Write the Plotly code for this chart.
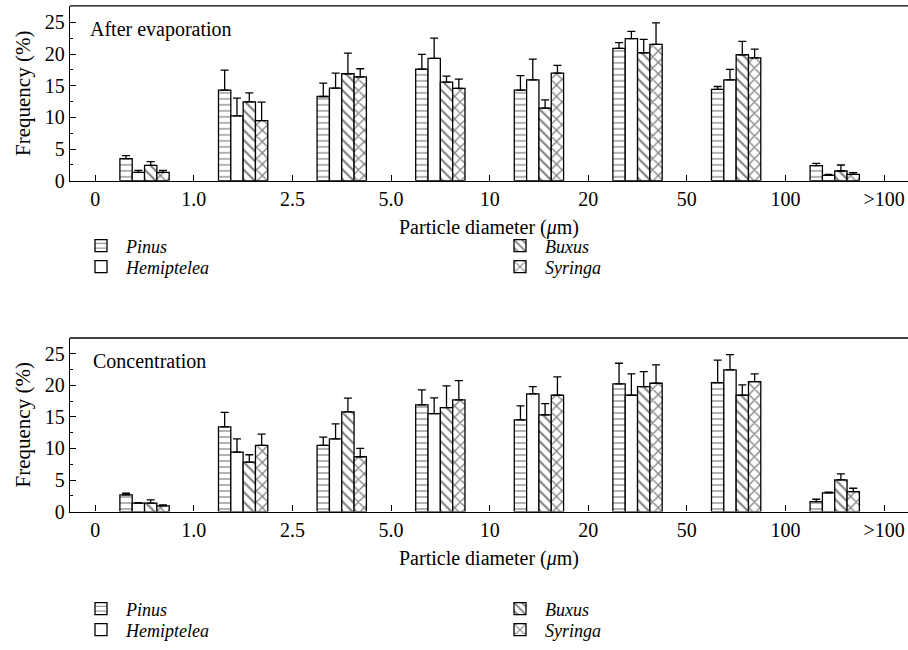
import plotly.graph_objects as go

# ---------------- data ----------------
tick_labels = ["0", "1.0", "2.5", "5.0", "10", "20", "50", "100", ">100"]
group_pos = [0.5, 1.5, 2.5, 3.5, 4.5, 5.5, 6.5, 7.5]
species = ["Pinus", "Hemiptelea", "Buxus", "Syringa"]

# After evaporation: mean values and upper error-bar tips
evap_pinus = [3.48, 14.3, 13.29, 17.6, 14.3, 20.89, 14.4, 2.37]
evap_pinus_top = [3.96, 17.46, 15.4, 19.94, 16.6, 21.78, 14.87, 2.74]
evap_hemi = [1.32, 10.23, 14.6, 19.3, 15.93, 22.42, 15.93, 0.84]
evap_hemi_top = [1.63, 13.03, 16.98, 22.5, 19.2, 23.58, 17.56, 1.0]
evap_buxus = [2.43, 12.45, 16.88, 15.56, 11.45, 20.2, 19.88, 1.53]
evap_buxus_top = [3.0, 13.87, 20.15, 16.5, 12.76, 22.3, 22.0, 2.48]
evap_syringa = [1.32, 9.49, 16.4, 14.56, 16.98, 21.52, 19.4, 1.0]
evap_syringa_top = [1.63, 12.39, 17.67, 16.03, 18.2, 24.9, 20.78, 1.27]

# Concentration
conc_pinus = [2.64, 13.42, 10.47, 16.9, 14.53, 20.22, 20.44, 1.58]
conc_pinus_top = [2.9, 15.7, 11.79, 19.28, 16.75, 23.5, 24.0, 1.95]
conc_hemi = [1.32, 9.42, 11.52, 15.53, 18.65, 18.43, 22.44, 2.95]
conc_hemi_top = [1.42, 11.52, 13.9, 18.0, 19.8, 21.8, 24.87, 3.06]
conc_buxus = [1.32, 7.83, 15.8, 16.48, 15.32, 19.8, 18.43, 5.01]
conc_buxus_top = [1.85, 9.0, 17.96, 19.9, 17.1, 22.18, 20.07, 5.96]
conc_syringa = [0.9, 10.47, 8.68, 17.7, 18.43, 20.33, 20.6, 3.16]
conc_syringa_top = [1.05, 12.26, 10.0, 20.76, 21.33, 23.23, 21.8, 3.69]

FONT = "Liberation Serif, 'DejaVu Serif', Times New Roman, serif"
FS = 20
LFS = 18

patterns = {
    "Pinus": dict(shape="-", size=6, solidity=0.2, fgcolor="black", bgcolor="white", fillmode="overlay"),
    "Hemiptelea": dict(shape="", fgcolor="black", bgcolor="white"),
    "Buxus": dict(shape="\\", size=7, solidity=0.3, fgcolor="black", bgcolor="white", fillmode="overlay"),
    "Syringa": dict(shape="x", size=8, solidity=0.3, fgcolor="black", bgcolor="white", fillmode="overlay"),
}

fig = go.Figure()

panels = [
    ("x", "y", [(evap_pinus, evap_pinus_top), (evap_hemi, evap_hemi_top),
                (evap_buxus, evap_buxus_top), (evap_syringa, evap_syringa_top)],
     ["legend", "legend2", "legend3", "legend4"]),
    ("x2", "y2", [(conc_pinus, conc_pinus_top), (conc_hemi, conc_hemi_top),
                  (conc_buxus, conc_buxus_top), (conc_syringa, conc_syringa_top)],
     ["legend5", "legend6", "legend7", "legend8"]),
]

for xa, ya, series, legs in panels:
    for name, (vals, tops), lg in zip(species, series, legs):
        err = [t - v for t, v in zip(tops, vals)]
        fig.add_trace(go.Bar(
            x=group_pos, y=vals, name="<i>" + name + "</i>", xaxis=xa, yaxis=ya,
            legend=lg, offsetgroup=name, showlegend=True,
            marker=dict(color="white", line=dict(color="black", width=1.3),
                        pattern=patterns[name]),
            error_y=dict(type="data", symmetric=False, array=err,
                         arrayminus=[0] * len(err), color="black",
                         thickness=1.3, width=4),
        ))

axis_common = dict(
    range=[-0.256, 8.243], tickmode="array", tickvals=list(range(9)),
    ticktext=tick_labels, ticks="inside", ticklen=6, tickwidth=1.2,
    tickcolor="black", showline=True, linecolor="black", linewidth=1.3,
    mirror=False, showgrid=False, zeroline=False,
    tickfont=dict(family=FONT, size=FS, color="black"),
    title=dict(text="Particle diameter (<i>μ</i>m)",
               font=dict(family=FONT, size=FS, color="black"), standoff=11),
)
yaxis_common = dict(
    range=[0, 27.6], dtick=5, tick0=0, ticks="inside", ticklen=6,
    tickwidth=1.2, tickcolor="black", showline=True, linecolor="black",
    linewidth=1.3, showgrid=False, zeroline=False,
    minor=dict(dtick=2.5, ticks="inside", ticklen=3, tickcolor="black", tickwidth=1.2),
    tickfont=dict(family=FONT, size=FS, color="black"),
    title=dict(text="Frequency (%)", font=dict(family=FONT, size=FS + 1, color="black"), standoff=8),
)

fig.update_layout(
    width=908, height=650,
    margin=dict(l=70, r=0, t=0, b=0, autoexpand=False),
    paper_bgcolor="white", plot_bgcolor="white",
    barmode="group", bargap=0.5, bargroupgap=0,
    showlegend=True,
    font=dict(family=FONT, size=FS, color="black"),
    xaxis=dict(domain=[0, 1], anchor="y", **axis_common),
    yaxis=dict(domain=[0.722, 0.991], anchor="x", **yaxis_common),
    xaxis2=dict(domain=[0, 1], anchor="y2", **axis_common),
    yaxis2=dict(domain=[0.213, 0.480], anchor="x2", **dict(yaxis_common, range=[0, 27.5])),
)

# top border lines of each panel
for yd in [0.991, 0.480]:
    fig.add_shape(type="line", xref="paper", yref="paper", x0=0, x1=1.0,
                  y0=yd, y1=yd, line=dict(color="black", width=1.3))

fig.add_annotation(text="After evaporation", xref="paper", yref="paper",
                   x=0.022, y=0.955, xanchor="left", yanchor="middle",
                   showarrow=False, font=dict(family=FONT, size=FS, color="black"))
fig.add_annotation(text="Concentration", xref="paper", yref="paper",
                   x=0.025, y=0.445, xanchor="left", yanchor="middle",
                   showarrow=False, font=dict(family=FONT, size=FS, color="black"))

# legends: one entry each, positioned in two columns under each panel
def leg(xpx, ypx):
    return dict(x=(xpx - 70) / 838, y=1 - ypx / 650, xanchor="left", yanchor="middle",
                xref="paper", yref="paper", bgcolor="rgba(0,0,0,0)",
                font=dict(family=FONT, size=LFS, color="black"),
                itemwidth=40, visible=True)

lx1, lx2 = 76, 495
fig.update_layout(
    legend=leg(lx1, 246), legend2=leg(lx1, 267),
    legend3=leg(lx2, 246), legend4=leg(lx2, 267),
    legend5=leg(lx1, 609), legend6=leg(lx1, 630),
    legend7=leg(lx2, 609), legend8=leg(lx2, 630),
)

fig.write_html("out.html")
